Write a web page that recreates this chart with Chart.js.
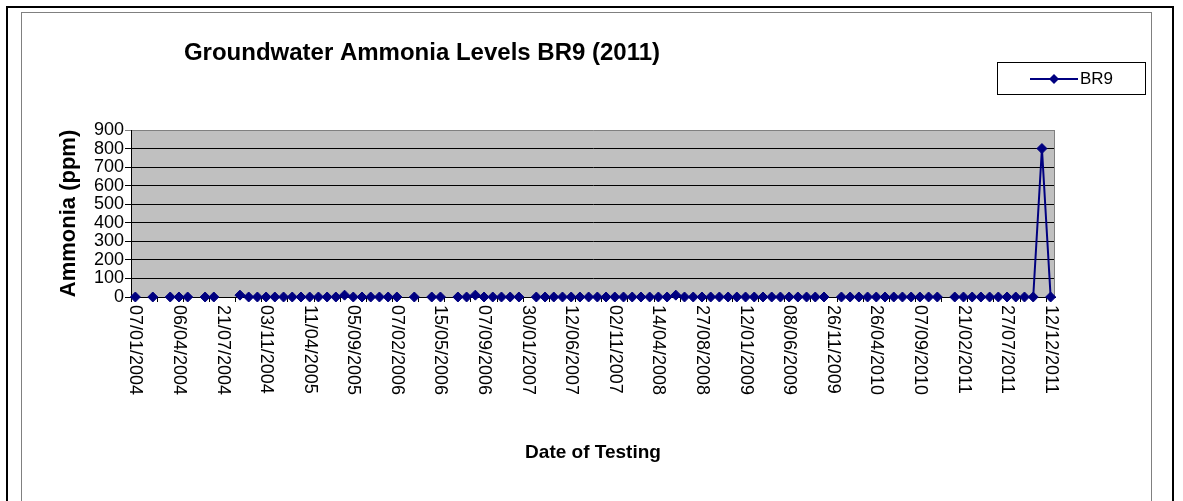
<!DOCTYPE html>
<html>
<head>
<meta charset="utf-8">
<title>Groundwater Ammonia Levels BR9 (2011)</title>
<script src="https://cdn.jsdelivr.net/npm/chart.js@4.4.1/dist/chart.umd.min.js"></script>
<style>
  html, body { margin: 0; padding: 0; background: #fff; }
  body { width: 1183px; height: 501px; position: relative; overflow: hidden; }
  .outer { position: absolute; left: 6px; top: 6px; width: 1164px; height: 520px; border: 2px solid #000; border-bottom: none; }
  .inner { position: absolute; left: 21px; top: 12px; width: 1129px; height: 520px; border: 1px solid #808080; border-bottom: none; }
  canvas { position: absolute; left: 0; top: 0; }
</style>
</head>
<body>
<div class="outer"></div>
<div class="inner"></div>
<canvas id="ammoniaChart" width="1183" height="501"></canvas>
<script>
  const chartTitle = 'Groundwater Ammonia Levels BR9 (2011)';
  const seriesName = 'BR9';

  // every 5th test date is printed under the axis
  const tickLabels = [
    '07/01/2004', '06/04/2004', '21/07/2004', '03/11/2004', '11/04/2005', '05/09/2005',
    '07/02/2006', '15/05/2006', '07/09/2006', '30/01/2007', '12/06/2007', '02/11/2007',
    '14/04/2008', '27/08/2008', '12/01/2009', '08/06/2009', '26/11/2009', '26/04/2010',
    '07/09/2010', '21/02/2011', '27/07/2011', '12/12/2011'
  ];
  const labelStep = 5;

  // ammonia (ppm) per test, null = no sample
  const br9 = [
    0, null, 0, null, 0, 0, 0, null, 0, 0,
    null, null, 10, 0, 0, 0, 0, 0, 0, 0,
    0, 0, 0, 0, 10, 0, 0, 0, 0, 0,
    0, null, 0, null, 0, 0, null, 0, 0, 10,
    0, 0, 0, 0, 0, null, 0, 0, 0, 0,
    0, 0, 0, 0, 0, 0, 0, 0, 0, 0,
    0, 0, 10, 0, 0, 0, 0, 0, 0, 0,
    0, 0, 0, 0, 0, 0, 0, 0, 0, 0,
    null, 0, 0, 0, 0, 0, 0, 0, 0, 0,
    0, 0, 0, null, 0, 0, 0, 0, 0, 0,
    0, 0, 0, 0, 800, 0
  ];

  const categories = br9.map((v, i) => (i % labelStep === 0 ? tickLabels[i / labelStep] : ''));

  const FONT = '"Liberation Sans", Arial, sans-serif';
  const NAVY = '#000080';

  // grey plot background, excel style title / legend / rotated dates
  const excelLook = {
    id: 'excelLook',
    beforeDraw(chart) {
      const { ctx, chartArea: a } = chart;
      ctx.save();
      ctx.fillStyle = '#c0c0c0';
      ctx.fillRect(a.left, a.top, a.width, a.height);
      ctx.restore();
    },
    beforeDatasetsDraw(chart) {
      const { ctx, chartArea: a } = chart;
      ctx.save();
      ctx.strokeStyle = '#808080';
      ctx.lineWidth = 1;
      ctx.beginPath();
      ctx.moveTo(a.right - 0.5, a.top);
      ctx.lineTo(a.right - 0.5, a.bottom);
      ctx.stroke();
      ctx.restore();
    },
    afterDraw(chart) {
      const { ctx, chartArea: a } = chart;
      const x = chart.scales.x;
      ctx.save();

      // date labels, rotated to read downwards
      ctx.fillStyle = '#000';
      ctx.font = '18px ' + FONT;
      ctx.textAlign = 'left';
      ctx.textBaseline = 'middle';
      tickLabels.forEach((t, k) => {
        const px = x.getPixelForValue(k * labelStep);
        ctx.save();
        ctx.translate(px, a.bottom + 8);
        ctx.rotate(Math.PI / 2);
        ctx.fillText(t, 0, 0);
        ctx.restore();
      });

      // title
      ctx.font = 'bold 24px ' + FONT;
      ctx.textAlign = 'center';
      ctx.fillText(chartTitle, 422, 53);

      // legend box
      ctx.strokeStyle = '#000';
      ctx.lineWidth = 1;
      ctx.strokeRect(997.5, 62.5, 148, 32);
      ctx.strokeStyle = NAVY;
      ctx.lineWidth = 2;
      ctx.beginPath();
      ctx.moveTo(1030, 79);
      ctx.lineTo(1078, 79);
      ctx.stroke();
      ctx.fillStyle = NAVY;
      ctx.beginPath();
      ctx.moveTo(1054, 74);
      ctx.lineTo(1059, 79);
      ctx.lineTo(1054, 84);
      ctx.lineTo(1049, 79);
      ctx.closePath();
      ctx.fill();
      ctx.fillStyle = '#000';
      ctx.font = '17px ' + FONT;
      ctx.textAlign = 'left';
      ctx.fillText(chart.data.datasets[0].label, 1080, 79);

      ctx.restore();
    }
  };

  const ctx = document.getElementById('ammoniaChart').getContext('2d');

  new Chart(ctx, {
    type: 'line',
    data: {
      labels: categories,
      datasets: [
        {
          label: seriesName,
          data: br9,
          borderColor: NAVY,
          borderWidth: 2,
          backgroundColor: NAVY,
          pointStyle: 'rectRot',
          pointRadius: 5,
          pointBackgroundColor: NAVY,
          pointBorderColor: NAVY,
          pointBorderWidth: 1,
          tension: 0,
          spanGaps: false,
          clip: false
        }
      ]
    },
    options: {
      responsive: false,
      animation: false,
      layout: {
        padding: { left: 52, top: 130, right: 128, bottom: 0 }
      },
      plugins: {
        legend: { display: false },
        title: { display: false },
        tooltip: { enabled: false }
      },
      scales: {
        x: {
          type: 'category',
          offset: true,
          ticks: { display: false },
          grid: {
            offset: true,
            drawOnChartArea: false,
            tickLength: 5,
            color: (c) => (c.index % 3 === 0 ? '#000' : 'rgba(0,0,0,0)')
          },
          border: { color: '#000', width: 1 },
          title: {
            display: true,
            text: 'Date of Testing',
            color: '#000',
            font: { family: FONT, size: 19, weight: 'bold' },
            padding: { top: 0, bottom: 37 }
          },
          afterFit(scale) {
            scale.height = 204;
          }
        },
        y: {
          min: 0,
          max: 900,
          ticks: {
            stepSize: 100,
            autoSkip: false,
            color: '#000',
            padding: 1,
            font: { family: FONT, size: 18, lineHeight: 1 }
          },
          grid: {
            color: (c) => (c.tick && c.tick.value === 900 ? '#808080' : '#000'),
            tickLength: 6
          },
          border: { color: '#000', width: 1 },
          title: {
            display: true,
            text: 'Ammonia (ppm)',
            color: '#000',
            font: { family: FONT, size: 22, weight: 'bold' },
            padding: { top: 4, bottom: 4 }
          },
          afterFit(scale) {
            scale.width = 79;
          }
        }
      }
    },
    plugins: [excelLook]
  });
</script>
</body>
</html>
